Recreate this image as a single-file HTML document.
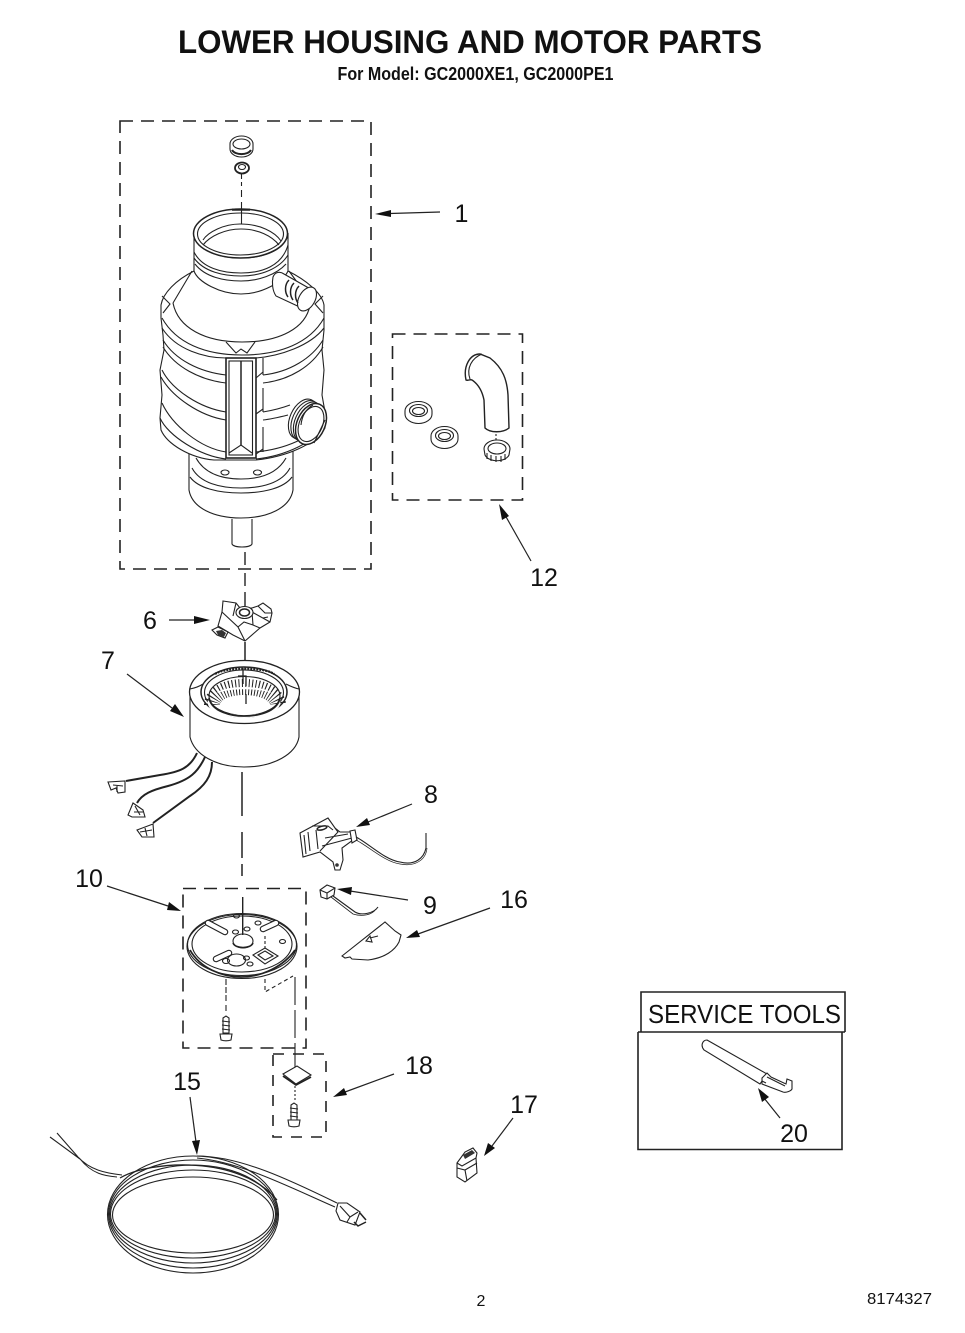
<!DOCTYPE html>
<html><head><meta charset="utf-8"><style>
html,body{margin:0;padding:0;background:#fff;width:965px;height:1333px;overflow:hidden}
svg{display:block}
text{font-family:"Liberation Sans",sans-serif;fill:#111;stroke:none}
.n{font-size:25px;text-anchor:middle}
.d{fill:none;stroke:#222;stroke-dasharray:13 8}
.l{fill:none;stroke:#222}
.w{fill:#fff;stroke:#222}
.a{fill:none;stroke:#222}
.h{fill:#111;stroke:none}
</style></head><body>
<svg width="965" height="1333" viewBox="0 0 965 1333" xmlns="http://www.w3.org/2000/svg" stroke-width="1.100">
<text x="470" y="53" font-size="32.500" font-weight="bold" text-anchor="middle" textLength="584" lengthAdjust="spacingAndGlyphs">LOWER HOUSING AND MOTOR PARTS</text>
<text x="475.500" y="80" font-size="18" font-weight="bold" text-anchor="middle" textLength="276" lengthAdjust="spacingAndGlyphs">For Model: GC2000XE1, GC2000PE1</text>

<!-- dashed boxes -->
<g stroke-width="1.600">
<rect class="d" x="120" y="121" width="251" height="448"/>
<rect class="d" x="392.500" y="334" width="130" height="166"/>
<rect class="d" x="183" y="888.500" width="123" height="159.500"/>
<rect class="d" x="273" y="1054" width="53" height="83" style="stroke-dasharray:11 9"/>
</g>

<!-- part 1 -->
<g>
<path class="l" d="M241.500 172V186M241.500 190V198M241.500 202V210" stroke-dasharray="7 3"/>
<!-- seal -->
<path class="w" d="M230 144a11.500 8 0 0 1 23 0v5a11.500 8 0 0 1-23 0z"/>
<ellipse class="l" cx="241.500" cy="144" rx="8.500" ry="5"/>
<path class="l" d="M232 150a10 6 0 0 0 19 0" stroke-width="2"/>
<ellipse class="w" cx="242" cy="168" rx="7" ry="5.500" stroke-width="1.800"/>
<ellipse class="l" cx="242" cy="167" rx="3.500" ry="2.500"/>

<!-- lower motor housing -->
<path class="w" d="M189 450V490C192 508 214 518 241 518C268 518 290 508 293 490V450z"/>
<path class="l" d="M190 477C198 488 218 493 241 493C264 493 284 488 292 477"/>
<path class="l" d="M192 468C200 483 220 488 241 488C262 488 282 483 290 468"/>
<path class="l" d="M196 458C205 474 222 479 241 479C260 479 277 474 286 458"/>
<ellipse class="l" cx="225" cy="472.500" rx="4" ry="2.500"/>
<ellipse class="l" cx="257.500" cy="472.500" rx="4" ry="2.500"/>
<path class="w" d="M232 519V544C234 548 250 548 252 544V519"/>

<!-- main body -->
<path class="w" d="M194 271C176 280 163 293 161 305V318L163 335L164 350L160 370L162 395L160 418L161 430C167 444 190 458 214 460L226 460H256C285 457 315 445 325 428L325 412L322 395L324 370L322 350L324 330V305C322 293 306 280 288 271z"/>
<path class="l" d="M162 318C176 343 205 355 242 355C280 355 310 343 324 318"/>
<path class="l" d="M162 328C176 350 205 358 226 358M256 358C280 356 310 346 324 328"/>
<path class="l" d="M163 340C175 360 200 372 226 375M263 375C290 372 312 358 323 340"/>
<path class="l" d="M163 347C175 367 200 380 226 383M263 383C290 380 312 366 323 347"/>
<path class="l" d="M162 370C172 390 200 408 226 412M263 412C275 410 282 408 290 405"/>
<path class="l" d="M161 377C172 397 200 416 226 420M263 420C272 419 280 417 288 415"/>
<path class="l" d="M162 403C172 425 200 448 226 452M256 452C285 449 312 438 324 420"/>
<path class="l" d="M160 418C168 436 200 456 226 459M256 459C285 456 315 442 325 425"/>
<!-- small panels -->
<path class="l" d="M263 358V375M256 378L263 372M263 388V412M256 414L263 409M263 427V452M256 454L263 449"/>
<path class="l" d="M162 296L170 304L163 313M323 296L315 304L323 313"/>
<path class="l" d="M192 271L173 303M289 271L310 300"/>
<path class="l" d="M173 303C178 328 205 342 242 342C280 342 306 328 310 305"/>
<path class="l" d="M226 342L236 353L241 349L247 353L255 342"/>
<!-- central panel -->
<rect class="w" x="226" y="358" width="30" height="100" stroke-width="1.600"/>
<rect class="l" x="229" y="361" width="23.500" height="94"/>
<path class="l" d="M241 361V445" stroke-width="1.500"/>
<path class="l" d="M229 453L241 445L252 453"/>
<!-- neck -->
<path class="w" d="M194 233V271C198 282 220 294 241 294C262 294 283 282 288 271V233C286 250 264 258 241 258C218 258 196 250 194 233z"/>
<path class="l" d="M194 252C202 268 222 273 241 273C262 273 282 266 288 245"/>
<path class="l" d="M194 258C204 272 224 276 241 276C262 276 280 268 288 255"/>
<path class="l" d="M195 264C205 277 224 281 241 281C258 281 276 275 286 264"/>
<ellipse class="w" cx="240.500" cy="233.500" rx="47" ry="24.500" stroke-width="1.500"/>
<ellipse class="l" cx="240.500" cy="234" rx="43" ry="21"/>
<path class="l" d="M203 240C208 232 224 224 240 224C260 224 275 232 281 241"/>
<path class="l" d="M203 245C210 236 225 229 241 229C258 229 272 236 279 245"/>
<path class="l" d="M232 209.700H250" stroke-width="2.200"/>
<path class="l" d="M241.500 210V224"/>
<!-- top port -->
<path class="w" d="M273 277C275 272 280 271 284 274L314 291L304 309L276 296C272 290 272 282 273 277z"/>
<ellipse class="w" cx="307" cy="299" rx="8" ry="13" transform="rotate(30 307 299)"/>
<path class="l" d="M289 280C284 285 285 293 288 297M294 283C289 288 290 296 293 300M299 286C294 291 295 299 298 303" stroke-width="1.500"/>
<!-- side port -->
<g>
<ellipse class="w" cx="303" cy="419" rx="13" ry="21" transform="rotate(24 303 419)"/>
<ellipse class="w" cx="305.500" cy="420.500" rx="13" ry="21" transform="rotate(24 305.500 420.500)"/>
<ellipse class="w" cx="308" cy="422" rx="13" ry="21" transform="rotate(24 308 422)"/>
<ellipse class="w" cx="311" cy="424" rx="14" ry="21.500" transform="rotate(24 311 424)" stroke-width="1.500"/>
<ellipse class="l" cx="311" cy="424" rx="11.500" ry="18.500" transform="rotate(24 311 424)"/>
<path class="l" d="M301 425C302 415 306 409 313 405M314 443L325 420"/>
</g>
</g>

<!-- axis 1-6 -->
<path class="a" d="M245 552V565M245 573V586M245 592V606" stroke-width="1.400"/>

<!-- part 6 -->
<g>
<path class="w" d="M223 601L236 603L240 608L252 608L258 606L263 603L271 609L272 613L270 622L260 628L245 641L233 635L218 626L222 612z"/>
<path class="l" d="M222 612L238 627L245 641M238 627L244 622L253 625L260 628M253 625L252 612L270 622M236 603L233 616"/>
<ellipse class="w" cx="244.500" cy="612.500" rx="8.500" ry="6"/>
<ellipse class="l" cx="244.500" cy="612.500" rx="5" ry="3.500" stroke-width="1.500"/>
<path class="l" d="M258 606L265 613L272 613M263 618L268 617"/>
<path class="w" d="M212 630L218 627L228 632L225 638L217 635z"/>
<path d="M216 631L222 630L226 633L224 637L218 635z" fill="#333"/>
</g>
<path class="a" d="M245 642V660" stroke-width="1.500"/>

<!-- part 7 stator -->
<g>
<path class="w" d="M190 690V737C194 754 215 767 244 767C274 767 296 754 299 737V690z"/>
<ellipse class="w" cx="244.500" cy="692" rx="55" ry="31.500" stroke-width="1.300"/>
<path class="l" d="M190 689C195 688 200 686 203 684M299 689C294 688 290 686 286 684"/>
<ellipse class="l" cx="244" cy="692" rx="43" ry="25" stroke-width="1.500"/>
<ellipse class="l" cx="244" cy="692.500" rx="39.500" ry="22.500"/>
<ellipse class="w" cx="244.500" cy="696" rx="35.500" ry="19.500"/>
<path d="M212 704C212 694 224 686 244 686C264 686 278 694 278 704" fill="none" stroke="#222" stroke-width="16" stroke-dasharray="1 2.200" transform="translate(0 1)"/>
<path class="w" d="M217 693C224 685 264 685 272 693C260 688 230 688 217 693z" style="stroke:none"/>
<path d="M216 710C226 716 262 716 272 710L280 700C282 708 274 717 244 718C214 717 206 708 208 700z" fill="#fff"/>
<path class="l" d="M209 698C212 712 232 716 244 716C258 716 277 712 280 698" stroke-width="1.800"/>
<path class="l" d="M215 674C225 667 265 667 274 674" stroke-width="2.200" stroke-dasharray="2 1"/>
<path class="l" d="M243 668V684M238 676H246V686M246 694V704" stroke-width="1.300"/>
<path class="a" d="M242 772V816M242 832V858M242 864V876" stroke-width="1.500"/>
<!-- leads -->
<path class="l" d="M197 753C190 768 180 772 160 775L126 781" stroke-width="2"/>
<path class="l" d="M205 757C198 772 190 780 168 786C152 790 142 794 137 803" stroke-width="2"/>
<path class="l" d="M212 762C212 776 205 786 190 796L153 823" stroke-width="2"/>
<path class="w" d="M108 782L125 781L125 792L118 793L116 788L111 790z"/>
<path class="l" d="M113 785L123 786M117 786V792"/>
<path class="w" d="M133 803L143 810L145 817L132 817L128 815z"/>
<path class="l" d="M134 812H143M135 806L140 815"/>
<path class="w" d="M137 830L153 824L154 837L142 837z"/>
<path class="l" d="M140 832L152 830M145 828L147 836"/>
</g>

<!-- part 8 -->
<g>
<path class="w" d="M300 833L328 818L335 828L340 832L352 832L353 840L342 848L343 860L340 870L335 870L333 862L320 852L303 857z"/>
<path class="l" d="M304 835L306 854M308 832L310 851M316 830L318 849M335 828L338 832L320 851M325 838L348 834M322 846L352 838"/>
<path class="l" d="M312 826L328 826L333 830"/>
<ellipse class="l" cx="322" cy="828" rx="5" ry="1.800" stroke-width="1.500" transform="rotate(-15 322 828)"/>
<path class="w" d="M350 831L355 830L357 840L352 843z"/>
<circle cx="337" cy="865" r="1.800" fill="#333"/>
<path class="l" d="M356 837C368 843 385 860 400 862C415 866 424 858 426 848V833"/>
<path class="l" d="M356 840C368 846 385 862 400 864C415 867 426 860 427 848" stroke-width=".7"/>
</g>

<!-- part 10 plate -->
<g>
<ellipse class="w" cx="242" cy="946.500" rx="55" ry="32"/>
<ellipse class="l" cx="242" cy="944.500" rx="54.500" ry="31"/>
<ellipse class="l" cx="242" cy="944" rx="50" ry="28"/>
<path class="l" d="M190 950C200 968 222 977 241 977C262 977 284 966 295 950" stroke-width="1.800"/>
<g fill="none" stroke-linecap="round">
<path d="M208 923L225 932M263 929L276 923M216 959L229 953" stroke="#222" stroke-width="6.500"/>
<path d="M208 923L225 932M263 929L276 923M216 959L229 953" stroke="#fff" stroke-width="4.300"/>
</g>
<ellipse class="w" cx="243" cy="941" rx="10" ry="7"/>
<path class="l" d="M233 943C235 949 251 949 253 943" stroke-width="1.500"/>
<path class="l" d="M242.700 897V935" stroke-width="1.400"/>
<ellipse class="w" cx="236.500" cy="960" rx="9" ry="6"/>
<ellipse class="l" cx="226" cy="961" rx="3.500" ry="2.500"/>
<ellipse class="l" cx="246.500" cy="958" rx="3" ry="2"/>
<ellipse class="l" cx="250" cy="964" rx="3" ry="2"/>
<ellipse class="l" cx="236.500" cy="916" rx="3" ry="2"/>
<ellipse class="l" cx="258" cy="923" rx="3" ry="2"/>
<ellipse class="l" cx="247" cy="929" rx="3" ry="2"/>
<ellipse class="l" cx="235.500" cy="932" rx="3" ry="2"/>
<ellipse class="l" cx="282.500" cy="941.500" rx="3" ry="2"/>
<path class="w" d="M253 955L265 948L278 956L265 964z"/>
<path class="l" d="M258 955L265 951L273 956L265 960z"/>
<path class="l" d="M265 936V948" stroke-dasharray="3 2"/>
<path class="l" d="M226 979V1002M226 1005V1012" stroke-dasharray="6 2"/>
<path class="l" d="M265 979V992L293 976" stroke-dasharray="4 3"/>
<path class="l" d="M295 977V1067" stroke-dasharray="28 5"/>
</g>
<!-- screw 1 -->
<path class="w" d="M223 1018L226 1016L229 1018V1033H223z"/>
<path class="l" d="M222 1021L230 1022M222 1025L230 1026M222 1029L230 1030"/>
<path class="w" d="M220 1034H232L231 1040C228 1041 224 1041 221 1040z"/>

<!-- part 18 -->
<path class="w" d="M283 1074L297 1066L311 1075L296 1084z"/>
<path class="l" d="M283 1076L296 1085L311 1077" stroke-width="1.800"/>
<path class="l" d="M295 1086V1100" stroke-dasharray="2 2"/>
<path class="w" d="M291 1105L294 1103L297 1105V1120H291z"/>
<path class="l" d="M290 1108L298 1109M290 1112L298 1113M290 1116L298 1117"/>
<path class="w" d="M288 1120H300L299 1126C296 1127 292 1127 289 1126z"/>

<!-- part 9 -->
<path class="w" d="M320 890L327 885L335 888L334 895L327 899L321 897z"/>
<path class="l" d="M320 890L327 893L327 899M327 893L335 888"/>
<path class="l" d="M333 896L355 912C362 916 374 913 378 907"/>
<path class="l" d="M331 897L353 914C362 917 372 915 376 909" stroke-width=".8"/>

<!-- part 16 -->
<path class="w" d="M342 956L385 922L395 931L401 935L399 942C395 950 385 958 368 960L352 959L350 957L345 958z"/>
<path class="l" d="M366 941L370 936L372 942zM370 938L378 936"/>

<!-- part 17 clip -->
<path class="w" d="M457 1163L465 1152L473 1148L477 1153L476 1158L477 1173L465 1182L457 1177z"/>
<path class="l" d="M457 1163L462 1166L476 1158M457 1168L465 1170L477 1163M465 1170L467 1181"/>
<path d="M463 1155L472 1150L475 1153L465 1159z" fill="#333"/>

<!-- part 12 -->
<g>
<path class="w" d="M405 411a13.500 9.500 0 0 1 27 0v3a13.500 9.500 0 0 1-27 0z"/>
<ellipse class="l" cx="418.500" cy="410.500" rx="9" ry="6"/>
<ellipse class="l" cx="418.500" cy="411" rx="6" ry="3.500"/>
<path class="w" d="M431 436a13.500 9.500 0 0 1 27 0v3a13.500 9.500 0 0 1-27 0z"/>
<ellipse class="l" cx="444.500" cy="435.500" rx="9" ry="6"/>
<ellipse class="l" cx="444.500" cy="436" rx="6" ry="3.500"/>
<path class="w" d="M484 449a13 9 0 0 1 26 0l-1 6a12.500 8 0 0 1-24 0z"/>
<ellipse class="l" cx="497" cy="448.500" rx="9" ry="5.500"/>
<path class="l" d="M487 459V453M491 461V455M496 462V456M501 462V456M505 460V454"/>
<path class="l" d="M496 434V441" stroke-dasharray="2 2"/>
<path class="w" d="M466 380C463 366 470 354 480 354L490 358C503 368 507 380 508 395L509 428C503 433 490 433 485 428L484 400C482 390 478 384 472 380C470 379 468 381 466 380z" stroke-width="1.400"/>
<path class="l" d="M470 379C466 368 472 358 482 354"/>
</g>

<!-- cord -->
<g>
<path class="l" d="M50 1137L80 1159M57 1133L78 1157"/>
<path class="l" d="M78 1157C90 1170 105 1173 122 1175M80 1159C92 1174 105 1176 117 1177" stroke-width="1"/>
<path class="l" d="M197 1156C240 1156 290 1180 337 1203M197 1158C240 1162 285 1185 335 1207"/>
<g fill="none" stroke="#222">
<ellipse cx="193" cy="1214.500" rx="85.500" ry="58.500"/>
<ellipse cx="193" cy="1214" rx="84.500" ry="54"/>
<ellipse cx="193" cy="1214" rx="83.500" ry="49"/>
<ellipse cx="193" cy="1214" rx="82.500" ry="44"/>
<ellipse cx="193" cy="1215" rx="80.500" ry="38"/>
<path d="M120 1178C150 1160 240 1155 277 1200" stroke-width="1.300"/>
</g>
<path class="w" d="M338 1203L347 1203L360 1212L355 1225L340 1220L336 1211z"/>
<path class="l" d="M340 1206L350 1217L347 1222M350 1217L358 1212"/>
<path class="l" d="M360 1213L366 1220M354 1222L358 1226L366 1222" stroke-width="1.500"/>
</g>

<!-- service tools -->
<g stroke-width="1.600">
<path fill="none" stroke="#222" d="M641 1032V992H845V1032"/>
<path fill="none" stroke="#222" d="M638 1032V1149.500H842V1032"/>
<path fill="none" stroke="#222" d="M638 1032H845"/>
</g>
<text x="648" y="1023" font-size="25.500" textLength="193" lengthAdjust="spacingAndGlyphs">SERVICE TOOLS</text>
<path class="w" d="M707 1040L767 1074L760 1084L704 1050C700 1045 703 1040 707 1040z"/>
<path class="w" d="M762 1078L767 1073L771 1077L786 1084L787 1079L792 1081L792 1089C791 1091 786 1093 783 1092L762 1084z"/>
<path class="l" d="M767 1077L785 1086M762 1081L766 1083"/>

<!-- arrows -->
<g stroke-width="1.200">
<path class="a" d="M440 212L390 213.500"/><path class="h" d="M375 214L391 210V217z"/>
<path class="a" d="M531 561L505 515"/><path class="h" d="M499 504L509 516L502 520z"/>
<path class="a" d="M169 620L195 620"/><path class="h" d="M210 620L194 616V624z"/>
<path class="a" d="M127 674L172 708"/><path class="h" d="M184 717L170 711L175 704z"/>
<path class="a" d="M412 804L368 822"/><path class="h" d="M356 827L367 818L370 825z"/>
<path class="a" d="M408 900L350 891"/><path class="h" d="M337 889L352 887L351 895z"/>
<path class="a" d="M490 908L418 934"/><path class="h" d="M406 938L417 930L420 937z"/>
<path class="a" d="M107 886L168 906"/><path class="h" d="M181 911L167 910L169 902z"/>
<path class="a" d="M394 1074L345 1092"/><path class="h" d="M333 1097L344 1088L347 1095z"/>
<path class="a" d="M190 1097L196 1142"/><path class="h" d="M197 1155L192 1141L200 1140z"/>
<path class="a" d="M513 1118L492 1146"/><path class="h" d="M484 1156L488 1143L495 1148z"/>
<path class="a" d="M780 1118L764 1098"/><path class="h" d="M758 1088L769 1097L762 1102z"/>
</g>

<!-- labels -->
<text class="n" x="461.500" y="222">1</text>
<text class="n" x="544" y="586">12</text>
<text class="n" x="150" y="629">6</text>
<text class="n" x="108" y="669">7</text>
<text class="n" x="431" y="803">8</text>
<text class="n" x="430" y="914">9</text>
<text class="n" x="89" y="887">10</text>
<text class="n" x="514" y="908">16</text>
<text class="n" x="419" y="1074">18</text>
<text class="n" x="187" y="1090">15</text>
<text class="n" x="524" y="1113">17</text>
<text class="n" x="794" y="1142">20</text>
<text x="481" y="1306" font-size="16" text-anchor="middle">2</text>
<text x="867" y="1304" font-size="15.500" textLength="65" lengthAdjust="spacingAndGlyphs">8174327</text>
</svg>
</body></html>
